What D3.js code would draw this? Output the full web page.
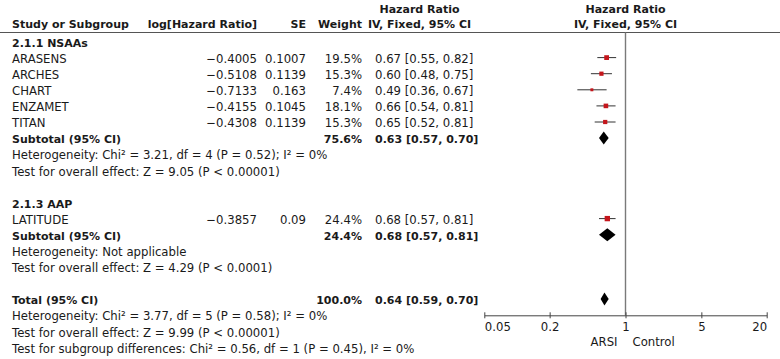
<!DOCTYPE html>
<html>
<head>
<meta charset="utf-8">
<script src="https://cdn.jsdelivr.net/npm/d3@7"></script>
<style>
  body { margin: 0; background: #fff; }
  svg text { font-family: 'DejaVu Sans', sans-serif; fill: #1a1a1a; }
</style>
</head>
<body>
<div id="chart"></div>
<script>
// data
const groups = ['2.1.1 NSAAs', '2.1.3 AAP']
const studies = ['ARASENS', 'ARCHES', 'CHART', 'ENZAMET', 'TITAN', 'LATITUDE']
const studyGroup = [0, 0, 0, 0, 0, 1]
const logHR = ['−0.4005', '−0.5108', '−0.7133', '−0.4155', '−0.4308', '−0.3857']
const se = ['0.1007', '0.1139', '0.163', '0.1045', '0.1139', '0.09']
const weight = [19.5, 15.3, 7.4, 18.1, 15.3, 24.4]
const hr = [0.67, 0.60, 0.49, 0.66, 0.65, 0.68]
const lower = [0.55, 0.48, 0.36, 0.54, 0.52, 0.57]
const upper = [0.82, 0.75, 0.67, 0.81, 0.81, 0.81]

const subWeight = [75.6, 24.4]
const subHR = [0.63, 0.68]
const subLower = [0.57, 0.57]
const subUpper = [0.70, 0.81]
const subHet = ['Heterogeneity: Chi² = 3.21, df = 4 (P = 0.52); I² = 0%', 'Heterogeneity: Not applicable']
const subTest = ['Test for overall effect: Z = 9.05 (P < 0.00001)', 'Test for overall effect: Z = 4.29 (P < 0.0001)']

const totalWeight = 100.0
const totalHR = 0.64
const totalLower = 0.59
const totalUpper = 0.70
const totalNotes = [
  'Heterogeneity: Chi² = 3.77, df = 5 (P = 0.58); I² = 0%',
  'Test for overall effect: Z = 9.99 (P < 0.00001)',
  'Test for subgroup differences: Chi² = 0.56, df = 1 (P = 0.45), I² = 0%'
]
const axisTicks = [0.05, 0.2, 1, 5, 20]
const favours = ['ARSI', 'Control']

const width = 780
const height = 359
const fs = 11.7
const fsBold = 11

const col = { study: 12, logHR: 257, se: 306, weight: 362, ci: 375, ciHead: 419.5 }

const svg = d3.select('#chart')
  .append('svg')
  .attr('width', width)
  .attr('height', height)

// build the row list
let rows = []
groups.forEach((g, gi) => {
  rows.push({ type: 'group', label: g })
  studies.forEach((s, i) => {
    if (studyGroup[i] === gi) rows.push({ type: 'study', i })
  })
  rows.push({ type: 'subtotal', gi })
  rows.push({ type: 'note', label: subHet[gi] })
  rows.push({ type: 'note', label: subTest[gi] })
  rows.push({ type: 'blank' })
})
rows.push({ type: 'total' })
totalNotes.forEach((n) => rows.push({ type: 'note', label: n }))

let ys = d3.scaleLinear()
  .domain([0, rows.length - 1])
  .range([42.5, 348.4])
let xs = d3.scaleLog()
  .domain([axisTicks[0], axisTicks[axisTicks.length - 1]])
  .range([484.3, 766.7])
let sq = d3.scaleSqrt()
  .domain([0, 100])
  .range([0, 10.8])

const fmt = (v) => v.toFixed(2)
const ciText = (h, l, u) => `${fmt(h)} [${fmt(l)}, ${fmt(u)}]`

function txt (x, y, s, opts = {}) {
  return svg.append('text')
    .attr('x', x)
    .attr('y', y)
    .attr('text-anchor', opts.anchor || 'start')
    .style('font-size', (opts.bold ? fsBold : fs) + 'px')
    .style('font-weight', opts.bold ? 'bold' : 'normal')
    .text(s)
}

// headers
txt(col.study, 28, 'Study or Subgroup', { bold: true })
txt(col.logHR, 28, 'log[Hazard Ratio]', { bold: true, anchor: 'end' })
txt(col.se, 28, 'SE', { bold: true, anchor: 'end' })
txt(col.weight, 28, 'Weight', { bold: true, anchor: 'end' })
txt(col.ciHead, 13, 'Hazard Ratio', { bold: true, anchor: 'middle' })
txt(col.ciHead, 28, 'IV, Fixed, 95% CI', { bold: true, anchor: 'middle' })
txt(xs(1), 13, 'Hazard Ratio', { bold: true, anchor: 'middle' })
txt(xs(1), 28, 'IV, Fixed, 95% CI', { bold: true, anchor: 'middle' })

svg.append('path')
  .attr('d', `M0,32.5H${width}`)
  .attr('stroke', '#555')
  .attr('stroke-width', 1)

// line of no effect
svg.append('path')
  .attr('d', `M${xs(1)},32.5V315.3`)
  .attr('stroke', '#7a7a7a')
  .attr('stroke-width', 1.4)

const diamond = (l, h, u, y) => {
  svg.append('path')
    .attr('d', `M${xs(l)},${y}L${xs(h)},${y - 6.5}L${xs(u)},${y}L${xs(h)},${y + 6.5}Z`)
    .attr('fill', '#000')
}

rows.forEach((r, ri) => {
  let y = ys(ri) + 4.2
  let my = ys(ri) - 1
  if (r.type === 'group') {
    txt(col.study, y, r.label, { bold: true })
  } else if (r.type === 'study') {
    let i = r.i
    txt(col.study, y, studies[i])
    txt(col.logHR, y, logHR[i], { anchor: 'end' })
    txt(col.se, y, se[i], { anchor: 'end' })
    txt(col.weight, y, weight[i].toFixed(1) + '%', { anchor: 'end' })
    txt(col.ci, y, ciText(hr[i], lower[i], upper[i]))
    svg.append('path')
      .attr('d', `M${xs(lower[i])},${my}H${xs(upper[i])}`)
      .attr('stroke', '#333')
      .attr('stroke-width', 1)
    let s = sq(weight[i])
    svg.append('rect')
      .attr('x', xs(hr[i]) - s / 2)
      .attr('y', my - s / 2)
      .attr('width', s)
      .attr('height', s)
      .attr('fill', '#c4161c')
  } else if (r.type === 'subtotal') {
    let g = r.gi
    txt(col.study, y, 'Subtotal (95% CI)', { bold: true })
    txt(col.weight, y, subWeight[g].toFixed(1) + '%', { bold: true, anchor: 'end' })
    txt(col.ci, y, ciText(subHR[g], subLower[g], subUpper[g]), { bold: true })
    diamond(subLower[g], subHR[g], subUpper[g], my)
  } else if (r.type === 'total') {
    txt(col.study, y, 'Total (95% CI)', { bold: true })
    txt(col.weight, y, totalWeight.toFixed(1) + '%', { bold: true, anchor: 'end' })
    txt(col.ci, y, ciText(totalHR, totalLower, totalUpper), { bold: true })
    diamond(totalLower, totalHR, totalUpper, my)
  } else if (r.type === 'note') {
    txt(col.study, y, r.label)
  }
})

// axis
let axis = svg.append('g')
  .attr('transform', 'translate(0,315.3)')
  .call(d3.axisBottom(xs)
    .tickValues(axisTicks)
    .tickFormat((d) => String(d))
    .tickSizeOuter(0))
axis.select('.domain').attr('stroke', '#444')
axis.selectAll('.tick line')
  .attr('y1', -3)
  .attr('y2', 3)
  .attr('stroke', '#444')
axis.selectAll('.tick text')
  .attr('y', 7)
  .style('font-family', "'DejaVu Sans', sans-serif")
  .style('font-size', fs + 'px')
  .attr('fill', '#1a1a1a')
  .attr('text-anchor', (d, i) => i === 0 ? 'start' : (i === axisTicks.length - 1 ? 'end' : 'middle'))

txt(xs(1) - 8, 346, favours[0], { anchor: 'end' })
txt(xs(1) + 7, 346, favours[1])
</script>
</body>
</html>
